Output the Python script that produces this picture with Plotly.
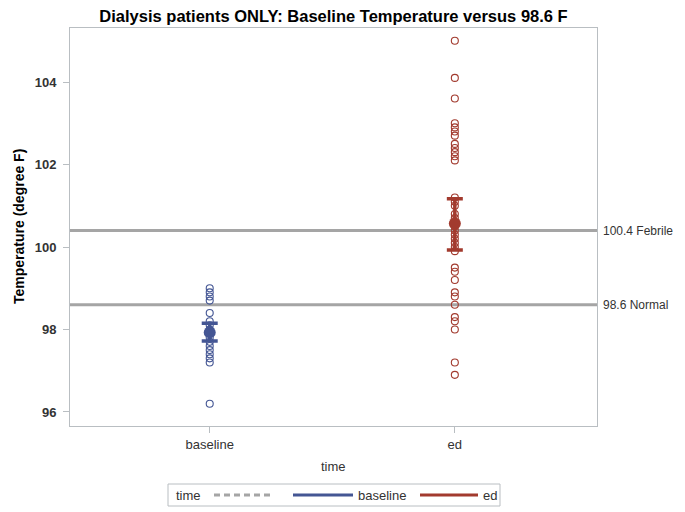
import plotly.graph_objects as go

# ---- data ----
categories = ["baseline", "ed"]
baseline_temps = [99.0, 98.9, 98.8, 98.7, 98.4, 98.2, 98.1, 98.0, 97.9, 97.8,
                  97.7, 97.6, 97.5, 97.4, 97.3, 97.2, 96.2]
ed_temps = [105.0, 104.1, 103.6, 103.0, 102.9, 102.8, 102.7, 102.5, 102.4, 102.3,
            102.2, 102.1, 101.2, 101.1, 101.0, 100.8, 100.7, 100.6, 100.5, 100.4,
            100.3, 100.2, 100.1, 100.0, 99.9, 99.5, 99.4, 99.2, 98.9, 98.8, 98.6,
            98.3, 98.2, 98.0, 97.2, 96.9]
group_means = [97.93, 100.57]
ci_lower = [97.72, 99.93]
ci_upper = [98.15, 101.17]
ref_values = [100.4, 98.6]
ref_labels = ["100.4 Febrile", "98.6 Normal"]
y_ticks = [96, 98, 100, 102, 104]
legend_title = "time"
legend_names = ["baseline", "ed"]

BLUE = "#445694"
RED = "#A23A2E"
GRAY = "#A5A5A5"
FRAME = "#B9BEC2"
TXT = "#333333"
FONT = "Liberation Sans, Arial, sans-serif"

# page layout (browser body has an 8px margin)
BODY = 8
W, H = 685 - BODY, 512 - BODY
PL, PR, PT, PB = 70, 597, 28, 426          # plot frame in page pixels


def px(x):  # page x -> paper x
    return (x - PL) / (PR - PL)


def py(y):  # page y -> paper y
    return (PB - y) / (PB - PT)


fig = go.Figure()

# reference lines + labels
for v, lab in zip(ref_values, ref_labels):
    fig.add_shape(type="line", xref="paper", x0=0, x1=1, yref="y", y0=v, y1=v,
                  line=dict(color=GRAY, width=3), layer="below")
    fig.add_annotation(xref="paper", x=1.0, xanchor="left", yanchor="middle", xshift=4,
                       yref="y", y=v, text=lab, showarrow=False,
                       font=dict(size=12, color=TXT, family=FONT))

series = [(baseline_temps, BLUE), (ed_temps, RED)]
for i, (vals, col) in enumerate(series):
    fig.add_trace(go.Scatter(
        x=[categories[i]] * len(vals), y=vals, mode="markers",
        marker=dict(symbol="circle-open", size=7, color=col, line=dict(width=1.1, color=col)),
        showlegend=False, hoverinfo="y"))
    fig.add_trace(go.Scatter(
        x=[categories[i]], y=[group_means[i]], mode="markers",
        marker=dict(symbol="circle", size=12, color=col),
        error_y=dict(type="data", symmetric=False,
                     array=[ci_upper[i] - group_means[i]],
                     arrayminus=[group_means[i] - ci_lower[i]],
                     color=col, thickness=3.5, width=8),
        showlegend=False))

# axis titles as annotations
fig.add_annotation(xref="paper", yref="paper", x=px(19), y=py(227), textangle=-90,
                   xanchor="center", yanchor="middle",
                   text="<b>Temperature (degree F)</b>", showarrow=False,
                   font=dict(size=14, color="black", family=FONT))
fig.add_annotation(xref="paper", yref="paper", x=0.5, y=py(466),
                   xanchor="center", yanchor="middle",
                   text="time", showarrow=False, font=dict(size=13, color=TXT, family=FONT))

# manual legend (box, title, samples, names)
ly = py(495)
fig.add_shape(type="rect", xref="paper", yref="paper", x0=px(168), x1=px(500),
              y0=py(506), y1=py(484), line=dict(color=FRAME, width=1), fillcolor="white")
fig.add_annotation(xref="paper", yref="paper", x=px(174), y=ly, xanchor="left", yanchor="middle",
                   text=legend_title, showarrow=False, font=dict(size=13, color=TXT, family=FONT))
fig.add_shape(type="line", xref="paper", yref="paper", x0=px(214), x1=px(271), y0=ly, y1=ly,
              line=dict(color=GRAY, width=3, dash="6px,4px"))
sample_x = [(293, 353, 356), (420, 478, 481)]
for (a, b, t), nm, col in zip(sample_x, legend_names, [BLUE, RED]):
    fig.add_shape(type="line", xref="paper", yref="paper", x0=px(a), x1=px(b), y0=ly, y1=ly,
                  line=dict(color=col, width=3))
    fig.add_annotation(xref="paper", yref="paper", x=px(t), y=ly, xanchor="left", yanchor="middle",
                       text=nm, showarrow=False, font=dict(size=13, color=TXT, family=FONT))

fig.update_layout(
    width=W, height=H,
    margin=dict(l=PL - BODY, r=W - (PR - BODY), t=PT - BODY, b=H - (PB - BODY), autoexpand=False),
    paper_bgcolor="white", plot_bgcolor="white",
    showlegend=False,
    font=dict(family=FONT, size=13, color=TXT),
    title=dict(text="<b>Dialysis patients ONLY: Baseline Temperature versus 98.6 F</b>",
               x=0.5, xref="paper", xanchor="center", y=1.0, yref="container", yanchor="top",
               pad=dict(t=2), font=dict(size=16.5, color="black", family=FONT)),
    xaxis=dict(type="category", categoryorder="array", categoryarray=categories,
               range=[-0.57, 1.58], showline=True, mirror=True, linecolor=FRAME,
               linewidth=1, ticks="outside", ticklen=6, tickcolor=FRAME,
               showgrid=False, zeroline=False, automargin=False,
               tickfont=dict(size=13, color=TXT)),
    yaxis=dict(range=[95.66, 105.31], tickvals=y_ticks,
               ticktext=["<b>%d</b>" % t for t in y_ticks],
               showline=True, mirror=True, linecolor=FRAME, linewidth=1,
               ticks="outside", ticklen=6, tickcolor=FRAME, ticklabelstandoff=4,
               showgrid=False, zeroline=False, automargin=False,
               tickfont=dict(size=13, color=TXT)),
)

fig.write_html("out.html")
